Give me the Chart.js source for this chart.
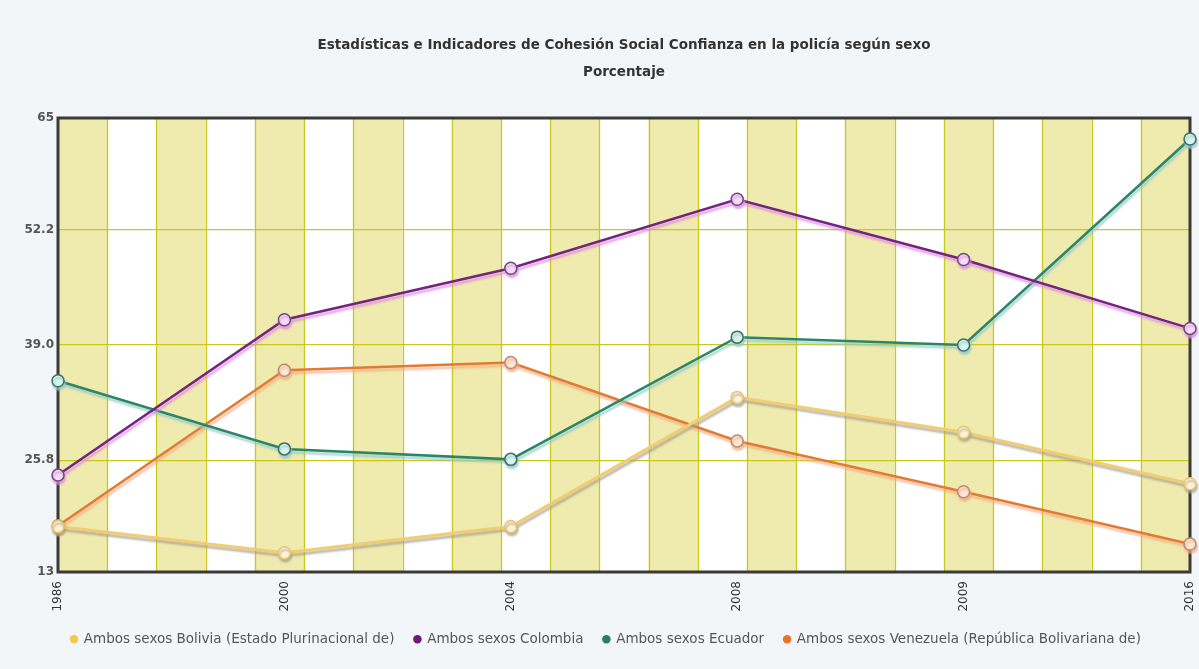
<!DOCTYPE html>
<html>
<head>
<meta charset="utf-8">
<script src="https://cdn.jsdelivr.net/npm/chart.js@4/dist/chart.umd.min.js"></script>
<style>
  html, body { margin: 0; padding: 0; background: #f3f6f9; overflow: hidden; }
  #wrap { width: 1199px; height: 669px; position: relative; }
</style>
</head>
<body>
<div id="wrap"><canvas id="c" width="1199" height="669"></canvas></div>
<script>
// ---- data ----
const categories = ['1986', '2000', '2004', '2008', '2009', '2016'];
const bolivia   = [18.2, 15.2, 18.2, 33.0, 29.0, 23.1];
const colombia  = [24.1, 41.9, 47.8, 55.7, 48.8, 40.9];
const ecuador   = [34.9, 27.1, 25.9, 39.9, 39.0, 62.6];
const venezuela = [18.3, 36.1, 37.0, 28.0, 22.2, 16.2];
const seriesNames = [
  'Ambos sexos Bolivia (Estado Plurinacional de)',
  'Ambos sexos Colombia',
  'Ambos sexos Ecuador',
  'Ambos sexos Venezuela (República Bolivariana de)'
];
const yTicks = [13, 25.8, 39.0, 52.2, 65];
const yTickLabels = ['13', '25.8', '39.0', '52.2', '65'];
const titleLines = [
  'Estadísticas e Indicadores de Cohesión Social Confianza en la policía según sexo',
  'Porcentaje'
];

// ---- styles ----
const lineColors   = ['#f0cd72', '#74247f', '#2a8668', '#e27a32'];
const legendColors = ['#f4c84a', '#6c1a7c', '#248063', '#e8742a'];
const shadowColors = ['rgba(170,160,140,0.75)', 'rgba(220,140,225,0.8)', 'rgba(150,200,200,0.8)', 'rgba(240,170,130,0.75)'];
const pointFills   = ['#fdf3d6', '#f6dcf6', '#d8f4ef', '#fbe6d4'];
const pointBorders = ['#e9c66e', '#6e4a78', '#3d6e66', '#b98a6e'];
const BAND_COUNT = 23;
const LEGEND_LEFT = 51;

const stripePlugin = {
  id: 'stripes',
  afterLayout(chart) {
    if (chart.legend) chart.legend.left = LEGEND_LEFT;
  },
  beforeDraw(chart) {
    const {ctx, chartArea: a} = chart;
    const w = (a.right - a.left) / BAND_COUNT;
    ctx.save();
    ctx.fillStyle = '#ffffff';
    ctx.fillRect(a.left, a.top, a.right - a.left, a.bottom - a.top);
    ctx.fillStyle = '#efeaae';
    for (let i = 0; i < BAND_COUNT; i += 2) {
      ctx.fillRect(a.left + i * w, a.top, w, a.bottom - a.top);
    }
    ctx.strokeStyle = '#c9c81e';
    ctx.lineWidth = 1.3;
    for (let i = 1; i < BAND_COUNT; i++) {
      const x = Math.round(a.left + i * w) + 0.5;
      ctx.beginPath();
      ctx.moveTo(x, a.top);
      ctx.lineTo(x, a.bottom);
      ctx.stroke();
    }
    ctx.restore();
  },
  beforeDatasetsDraw(chart) {
    const {ctx, chartArea: a} = chart;
    ctx.save();
    ctx.strokeStyle = '#3a3a36';
    ctx.lineWidth = 3;
    ctx.strokeRect(a.left, a.top, a.right - a.left, a.bottom - a.top);
    ctx.restore();
  },
  beforeDatasetDraw(chart, args) {
    const ds = chart.data.datasets[args.index];
    const ctx = chart.ctx;
    ctx.save();
    ctx.shadowColor = ds.shadowColor;
    ctx.shadowOffsetX = 1;
    ctx.shadowOffsetY = 3;
    ctx.shadowBlur = 2;
  },
  afterDatasetDraw(chart) {
    chart.ctx.restore();
  }
};

const seriesValues = [bolivia, colombia, ecuador, venezuela];
const datasets = seriesValues.map((vals, i) => ({
  label: seriesNames[i],
  data: vals,
  borderColor: lineColors[i],
  backgroundColor: legendColors[i],
  borderWidth: i === 0 ? 3 : 2.5,
  pointRadius: 6,
  pointHoverRadius: 6,
  pointBackgroundColor: pointFills[i],
  pointBorderColor: pointBorders[i],
  pointBorderWidth: 1.5,
  tension: 0,
  fill: false,
  clip: false,
  shadowColor: shadowColors[i]
}));

new Chart(document.getElementById('c'), {
  type: 'line',
  data: { labels: categories, datasets },
  plugins: [stripePlugin],
  options: {
    responsive: false,
    animation: false,
    events: [],
    layout: { padding: { left: 0, right: 9, top: 0, bottom: 13 } },
    scales: {
      x: {
        offset: false,
        grid: { display: false, drawTicks: false },
        border: { display: false },
        ticks: {
          minRotation: 90, maxRotation: 90, padding: 9,
          color: '#333', font: { family: 'DejaVu Sans', size: 12 }
        },
        afterFit(scale) {
          scale.height = 40.5;
          scale.paddingLeft = 0;
          scale.paddingRight = 0;
        }
      },
      y: {
        min: 13, max: 65,
        afterBuildTicks(scale) { scale.ticks = yTicks.map(v => ({ value: v })); },
        grid: { color: '#c9c81e', lineWidth: 1.3, drawTicks: false },
        border: { display: false },
        ticks: {
          padding: 4,
          color: '#555',
          font: { family: 'DejaVu Sans', size: 12, weight: 'bold' },
          callback: (v, i) => yTickLabels[i]
        },
        afterFit(scale) { scale.width = 58; }
      }
    },
    plugins: {
      title: {
        display: true,
        text: titleLines,
        fullSize: false,
        color: '#333',
        font: { family: 'DejaVu Sans', size: 13.5, weight: 'bold', lineHeight: 2 },
        padding: { top: 31.5, bottom: 32.5 }
      },
      legend: {
        position: 'bottom',
        align: 'start',
        labels: {
          usePointStyle: true,
          pointStyle: 'circle',
          boxWidth: 6,
          boxHeight: 6,
          padding: 20,
          color: '#555',
          font: { family: 'DejaVu Sans', size: 13.5 },
          generateLabels(chart) {
            return chart.data.datasets.map((ds, i) => ({
              text: ds.label,
              fillStyle: legendColors[i],
              strokeStyle: legendColors[i],
              lineWidth: 0,
              pointStyle: 'circle',
              fontColor: '#555',
              hidden: false,
              datasetIndex: i
            }));
          }
        }
      },
      tooltip: { enabled: false }
    }
  }
});
</script>
</body>
</html>
